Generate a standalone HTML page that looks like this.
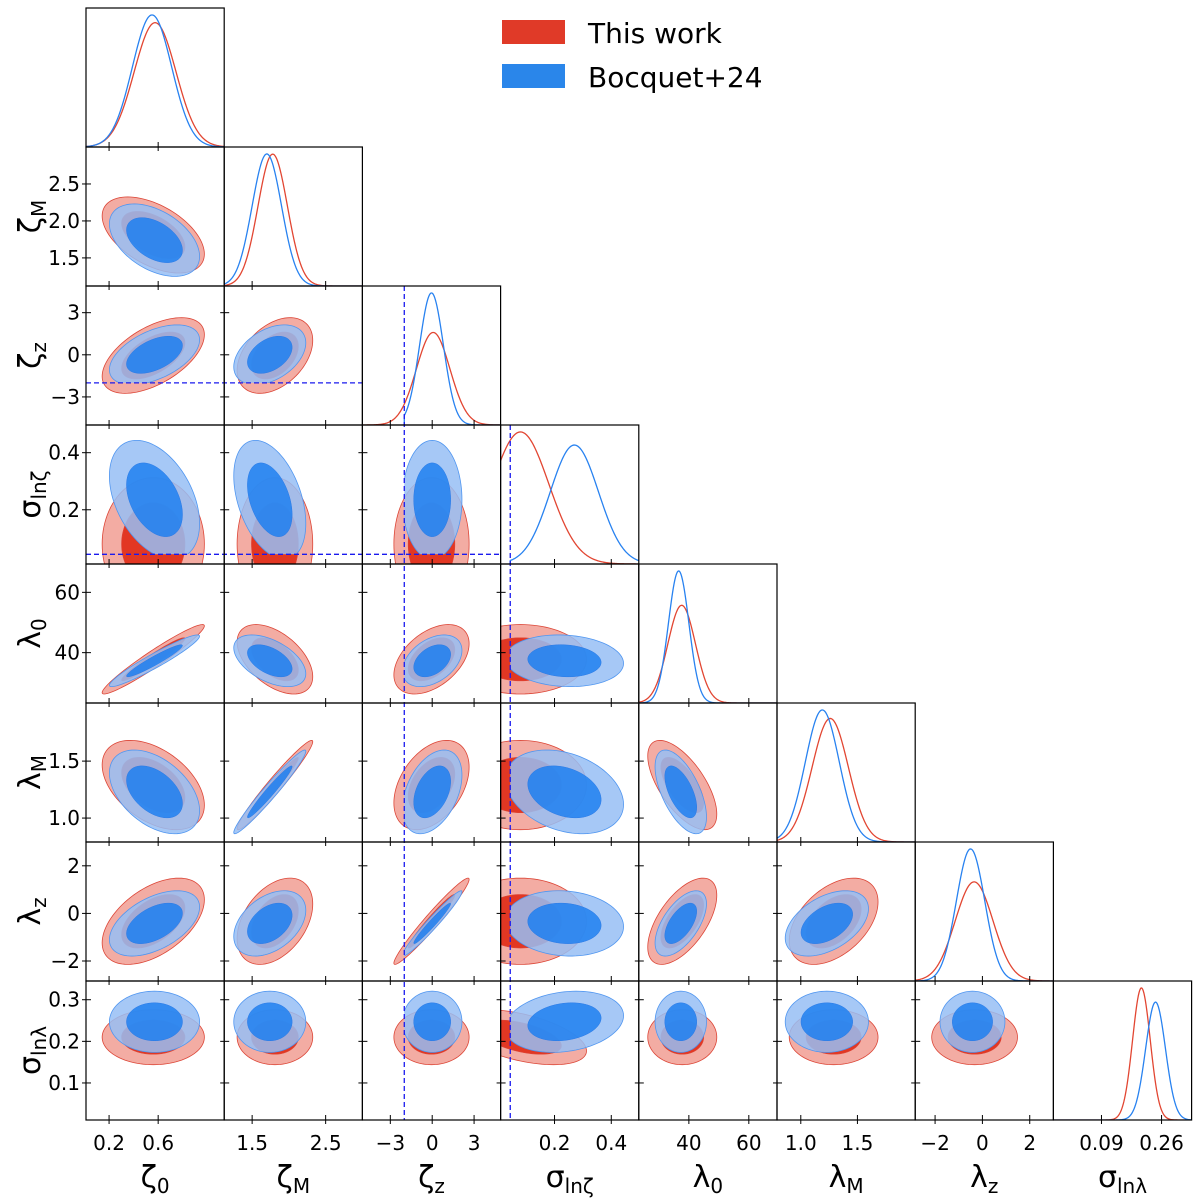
<!DOCTYPE html>
<html><head><meta charset="utf-8"><style>
html,body{margin:0;padding:0;background:#fff;}
svg{display:block;font-family:"DejaVu Sans","Liberation Sans",sans-serif;}
</style></head><body>
<svg id="chart" width="1200" height="1201" viewBox="0 0 1200 1201" xmlns="http://www.w3.org/2000/svg">
<g id="legend">
<rect x="502" y="20" width="63" height="24" fill="#e03a28"/>
<text x="588" y="43" font-size="28" fill="#000">This work</text>
<rect x="502" y="64" width="63" height="24" fill="#2a86ea"/>
<text x="588" y="87" font-size="28" fill="#000">Bocquet+24</text>
</g>
</svg>
<script>
// ---- data ----
const paramNames = ["zeta0","zetaM","zetaz","sigmalnzeta","lambda0","lambdaM","lambdaz","sigmalnlambda"];
const rangeLo = [0.012,1.12,-5.0,0.01,23.3,0.79,-2.84,0.011];
const rangeHi = [1.138,3.0,4.9,0.497,69.4,2.01,3.0,0.345];
const lastColLo = -0.046;
const lastColHi = 0.345;
const priorLo = [null,null,-2.0,0.044,null,null,null,null];
const redMean = [0.56,1.81,-0.05,0.08,37.8,1.29,-0.33,0.21];
const redSd = [0.17,0.21,1.1,0.095,4.7,0.16,0.74,0.027];
const blueMean = [0.57,1.74,0.0,0.235,37.3,1.23,-0.42,0.247];
const blueSd = [0.15,0.2,0.87,0.085,3.5,0.15,0.56,0.03];
const redRho = [[],[-0.5],[0.55,0.4],[0,0,0],[0.96,-0.5,0.45,0],[-0.45,0.97,0.4,0,-0.65],[0.5,0.4,0.97,0,0.6,0.45],[0,0,0,-0.5,0,0,0]];
const blueRho = [[],[-0.45],[0.5,0.4],[-0.4,-0.4,0],[0.95,-0.5,0.4,-0.1],[-0.45,0.97,0.4,-0.3,-0.6],[0.5,0.4,0.97,-0.1,0.6,0.45],[0,0,0,0.2,0,0,0]];
const diagRedMean = [0.575,1.78,0.07,0.08,37.6,1.26,-0.35,0.203];
const diagRedSd = [0.17,0.2,1.2,0.1,4.6,0.16,0.8,0.025];
const diagBlueMean = [0.55,1.70,-0.05,0.27,36.6,1.19,-0.5,0.243];
const diagBlueSd = [0.16,0.2,0.85,0.085,3.4,0.15,0.6,0.028];
const xTickVals = [[0.2,0.6],[1.5,2.5],[-3,0,3],[0.2,0.4],[40,60],[1.0,1.5],[-2,0,2],[0.09,0.26]];
const xTickLabels = [["0.2","0.6"],["1.5","2.5"],["−3","0","3"],["0.2","0.4"],["40","60"],["1.0","1.5"],["−2","0","2"],["0.09","0.26"]];
const yTickVals = [[],[1.5,2.0,2.5],[-3,0,3],[0.2,0.4],[40,60],[1.0,1.5],[-2,0,2],[0.1,0.2,0.3]];
const yTickLabels = [[],["1.5","2.0","2.5"],["−3","0","3"],["0.2","0.4"],["40","60"],["1.0","1.5"],["−2","0","2"],["0.1","0.2","0.3"]];
const axisSym = [["ζ","0"],["ζ","M"],["ζ","z"],["σ","lnζ"],["λ","0"],["λ","M"],["λ","z"],["σ","lnλ"]];

// ---- layout ----
const L = 86, T = 8, W = 138.2, H = 139, N = 8;
const NS = "http://www.w3.org/2000/svg";
const svg = document.getElementById("chart");
function mk(tag, attrs, parent){ const e=document.createElementNS(NS,tag); for(const k in attrs) e.setAttribute(k,attrs[k]); (parent||svg).appendChild(e); return e; }
function xLo(c){ return c===7 ? lastColLo : rangeLo[c]; }
function xHi(c){ return c===7 ? lastColHi : rangeHi[c]; }
function xPix(c,v){ return L + c*W + (v-xLo(c))/(xHi(c)-xLo(c))*W; }
function xPix2(c,v){ return L + c*W + (v-rangeLo[c])/(rangeHi[c]-rangeLo[c])*W; }
function yPix(r,v){ return T + (r+1)*H - (v-rangeLo[r])/(rangeHi[r]-rangeLo[r])*H; }

const defs = mk("defs",{});
const plots = mk("g",{});



function clipRect(id,x,y,w,h){ const cp=mk("clipPath",{id:id},defs); mk("rect",{x:x,y:y,width:Math.max(0,w),height:Math.max(0,h)},cp); }

function ellipsePath(c,r,mx,my,sx,sy,rho,k){
  let d=""; const s=Math.sqrt(Math.max(0,1-rho*rho));
  for(let i=0;i<=96;i++){ const t=i/96*2*Math.PI;
    const vx=mx+k*sx*Math.cos(t), vy=my+k*sy*(rho*Math.cos(t)+s*Math.sin(t));
    d+=(i?"L":"M")+xPix2(c,vx).toFixed(2)+","+yPix(r,vy).toFixed(2); }
  return d+"Z";
}

const K1 = 1.52, K2 = 2.45;
for(let r=1;r<N;r++){
  for(let c=0;c<r;c++){
    const px=L+c*W, py=T+r*H;
    const g = mk("g",{},plots);
    
    
    const cid="cp"+r+"_"+c; clipRect(cid,px,py,W,H);
    let bx0=px, by1=py+H;
    if(priorLo[c]!==null) bx0=Math.max(px,xPix2(c,priorLo[c]));
    if(priorLo[r]!==null) by1=Math.min(py+H,yPix(r,priorLo[r]));
    const bid="bp"+r+"_"+c; clipRect(bid,bx0,py,px+W-bx0,by1-py);
    const gr=mk("g",{"clip-path":"url(#"+cid+")"},g);
    const rO=mk("path",{d:ellipsePath(c,r,redMean[c],redMean[r],redSd[c],redSd[r],redRho[r][c],K2),fill:"rgb(238,140,128)","fill-opacity":"0.72",stroke:"rgb(220,70,55)","stroke-width":"0.8"},gr);
    
    
    const rI=mk("path",{d:ellipsePath(c,r,redMean[c],redMean[r],redSd[c],redSd[r],redRho[r][c],K1),fill:"rgb(224,48,28)","fill-opacity":"0.95",stroke:"rgb(220,70,55)","stroke-width":"0.6"},gr);
    
    
    const gb=mk("g",{"clip-path":"url(#"+bid+")"},gr);
    const bO=mk("path",{d:ellipsePath(c,r,blueMean[c],blueMean[r],blueSd[c],blueSd[r],blueRho[r][c],K2),fill:"rgb(150,190,245)","fill-opacity":"0.85",stroke:"rgb(80,150,240)","stroke-width":"0.8"},gb);
    
    
    const bI=mk("path",{d:ellipsePath(c,r,blueMean[c],blueMean[r],blueSd[c],blueSd[r],blueRho[r][c],K1),fill:"rgb(30,128,240)","fill-opacity":"0.85",stroke:"rgb(40,120,230)","stroke-width":"0.5"},gb);
    
    
  }
}

// ---- diagonal 1D ----
function gauss(v,m,s){ return Math.exp(-0.5*((v-m)/s)*((v-m)/s)); }
for(let c=0;c<N;c++){
  const px=L+c*W, py=T+c*H;
  const g=mk("g",{},plots);
  
  
  const cid="dg"+c; clipRect(cid,px,py,W,H);
  const lo=xLo(c), hi=xHi(c);
  const series=[[diagRedMean[c],diagRedSd[c],null,"rgb(226,70,50)","red"],[diagBlueMean[c],diagBlueSd[c],priorLo[c],"rgb(40,130,240)","blue"]];
  const dens=series.map(s=>{ const a=s[2]!==null?Math.max(lo,s[2]):lo; let m=0; for(let i=0;i<=400;i++){const v=a+(hi-a)*i/400; m+=gauss(v,s[0],s[1]);} m*= (hi-a)/400; return {a:a,z:m}; });
  const peaks=series.map((s,i)=>{ let mx=0; for(let j=0;j<=400;j++){const v=dens[i].a+(hi-dens[i].a)*j/400; mx=Math.max(mx,gauss(v,s[0],s[1]));} return mx/dens[i].z; });
  const top=Math.max(peaks[0],peaks[1]);
  series.forEach((s,i)=>{
    let d=""; const a=dens[i].a;
    if(a>lo) d+="M"+xPix(c,a).toFixed(2)+","+(py+H).toFixed(2);
    for(let j=0;j<=200;j++){ const v=a+(hi-a)*j/200; const yv=gauss(v,s[0],s[1])/dens[i].z/top*0.95*H;
      d+=((j||a>lo)?"L":"M")+xPix(c,v).toFixed(2)+","+(py+H-yv).toFixed(2); }
    const p=mk("path",{d:d,fill:"none",stroke:s[3],"stroke-width":"1.3","clip-path":"url(#"+cid+")"},g);
    
    
  });
}

// ---- prior dashed lines ----
const dash={stroke:"#1a1aee","stroke-width":"1.3","stroke-dasharray":"5,3",fill:"none"};
function dline(x1,y1,x2,y2,name){ const l=mk("line",Object.assign({x1:x1,y1:y1,x2:x2,y2:y2},dash));   }
{ const yz=yPix(2,priorLo[2]); dline(L,yz,L+2*W,yz,'prior-line-zetaz-horizontal');
  const xz=xPix2(2,priorLo[2]); dline(xz,T+2*H,xz,T+8*H,'prior-line-zetaz-vertical');
  const ys=yPix(3,priorLo[3]); dline(L,ys,L+3*W,ys,'prior-line-sigmalnzeta-horizontal');
  const xs=xPix2(3,priorLo[3]); dline(xs,T+3*H,xs,T+8*H,'prior-line-sigmalnzeta-vertical'); }

// ---- frames, ticks, labels ----
for(let r=0;r<N;r++){
  for(let c=0;c<=r;c++){
    const px=L+c*W, py=T+r*H;
    const f=mk("rect",{x:px,y:py,width:W,height:H,fill:"none",stroke:"#000","stroke-width":"1.2"});
    
    
    xTickVals[c].forEach(v=>{ const x=(r===c?xPix(c,v):xPix2(c,v)); mk("line",{x1:x,y1:py+H-5,x2:x,y2:py+H+4,stroke:"#000","stroke-width":"1"}); });
    if(c!==r) yTickVals[r].forEach(v=>{ const y=yPix(r,v); mk("line",{x1:px-4,y1:y,x2:px+5,y2:y,stroke:"#000","stroke-width":"1"}); });
  }
}
for(let c=0;c<N;c++){
  xTickVals[c].forEach((v,i)=>{ const x=(c===7?xPix(c,v):xPix2(c,v));
    const t=mk("text",{x:x,y:1150,"font-size":"20","text-anchor":"middle",fill:"#000"}); t.textContent=xTickLabels[c][i];
    
     });
  const xl=mk("text",{x:L+c*W+W/2,y:1187,"font-size":"30","text-anchor":"middle",fill:"#000"});
  
  
  const a=mk("tspan",{},xl); a.textContent=axisSym[c][0];
  const b=mk("tspan",{"font-size":"20",dy:"6"},xl); b.textContent=axisSym[c][1];
}
for(let r=1;r<N;r++){
  yTickVals[r].forEach((v,i)=>{ const t=mk("text",{x:80,y:yPix(r,v)+7,"font-size":"20","text-anchor":"end",fill:"#000"}); t.textContent=yTickLabels[r][i];
    
     });
  const cy=T+r*H+H/2;
  const yl=mk("text",{x:0,y:0,"font-size":"30","text-anchor":"middle",fill:"#000",transform:"translate(40,"+cy+") rotate(-90)"});
  
  
  const a=mk("tspan",{},yl); a.textContent=axisSym[r][0];
  const b=mk("tspan",{"font-size":"20",dy:"6"},yl); b.textContent=axisSym[r][1];
}
svg.appendChild(document.getElementById("legend"));
</script>
</body></html>
